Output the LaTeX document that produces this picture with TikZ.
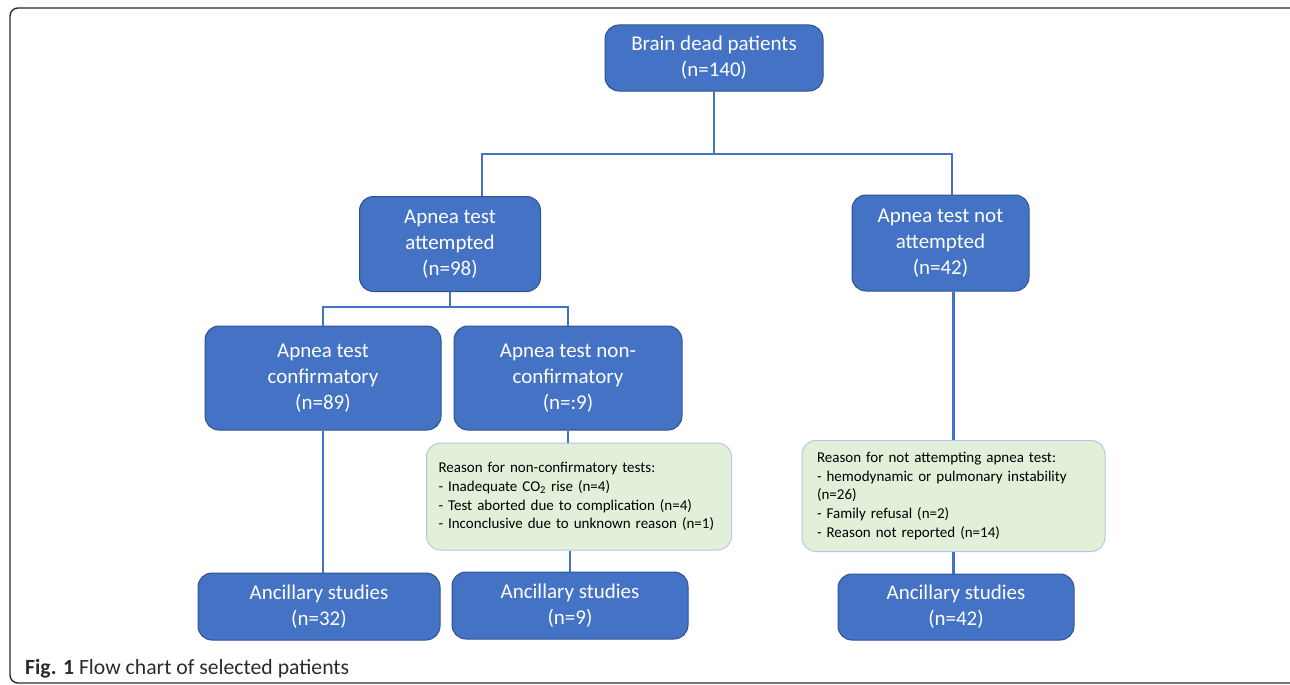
\documentclass[tikz,border=0pt]{standalone}
\usepackage{fontspec}
\setmainfont{Carlito}
\definecolor{boxblue}{HTML}{4472C4}
\definecolor{boxedge}{HTML}{2F528F}
\definecolor{notegreen}{HTML}{E2F0D9}
\definecolor{noteedge}{HTML}{B4C7E7}
\definecolor{captext}{HTML}{2B2B2B}
\tikzset{
  bluebox/.style={draw=boxedge, line width=1pt, fill=boxblue, rounded corners=14pt,
    text=white, align=center, inner sep=0pt, font=\fontsize{21}{26}\selectfont},
  notebox/.style={draw=noteedge, line width=1pt, fill=notegreen, rounded corners=14pt,
    text=black, align=left, inner ysep=0pt, font=\fontsize{15}{18.8}\selectfont},
  conn/.style={draw=boxblue, line width=2.8pt},
}
\begin{document}
\begin{tikzpicture}[x=1pt,y=-1pt]
\clip (0,0) rectangle (1290,685);
\useasboundingbox (0,0) rectangle (1290,685);
\draw[captext, line width=1.4pt, rounded corners=8pt] (10,8) rectangle (1310,683);

% nodes
\node[bluebox, minimum width=218pt, minimum height=66pt] (b) at (714,58) {Brain dead patients\\(n=140)};
\node[bluebox, minimum width=181pt, minimum height=95pt] (att) at (450,244) {Apnea test\\attempted\\(n=98)};
\node[bluebox, minimum width=177pt, minimum height=96pt] (natt) at (940.5,243) {Apnea test not\\attempted\\(n=42)};
\node[bluebox, minimum width=236pt, minimum height=104pt] (conf) at (323,378) {Apnea test\\confirmatory\\(n=89)};
\node[bluebox, minimum width=228pt, minimum height=104pt] (nconf) at (568,378) {Apnea test non-\\confirmatory\\(n=:9)};
\node[notebox, inner xsep=12pt, minimum width=305pt, minimum height=107pt, text width=281pt] (g1) at (579,496.5)
  {Reason for non-confirmatory tests:\\- Inadequate CO\textsubscript{2} rise (n=4)\\- Test aborted due to complication (n=4)\\- Inconclusive due to unknown reason (n=1)};
\node[notebox, inner xsep=15pt, minimum width=303pt, minimum height=111pt, text width=273pt] (g2) at (953.5,496)
  {Reason for not attempting apnea test:\\- hemodynamic or pulmonary instability\\(n=26)\\- Family refusal (n=2)\\- Reason not reported (n=14)};
\node[bluebox, minimum width=242pt, minimum height=67pt] (a1) at (319,606.5) {Ancillary studies\\(n=32)};
\node[bluebox, minimum width=236pt, minimum height=67pt] (a2) at (570,605.5) {Ancillary studies\\(n=9)};
\node[bluebox, minimum width=236pt, minimum height=66pt] (a3) at (956,607) {Ancillary studies\\(n=42)};

\node[anchor=base west, inner sep=0pt, text=captext, font=\fontsize{21.7}{26}\selectfont] (cap) at (25,674)
  {\textbf{Fig. 1} Flow chart of selected patients};

% connectors
\coordinate (h1L) at (482,154);
\coordinate (h1R) at (952,154);
\coordinate (h2) at (450,307);
\draw[conn] (b.south) -- (b.south |- h1L);
\draw[conn] (att.north -| h1L) -- (h1L) -- (h1R) -- (natt.north -| h1R);
\draw[conn] (att.south) -- (att.south |- h2);
\draw[conn] (conf.north) -- (conf.north |- h2) -- (nconf.north |- h2) -- (nconf.north);
\draw[conn] (conf.south) -- (conf.south |- a1.north);
\draw[conn] (nconf.south) -- (nconf.south |- g1.north);
\draw[conn] (a2.north) -- (a2.north |- g1.south);
\draw[conn] (g2.north) -- (g2.north |- natt.south);
\draw[conn] (g2.south) -- (g2.south |- a3.north);
\end{tikzpicture}
\end{document}
